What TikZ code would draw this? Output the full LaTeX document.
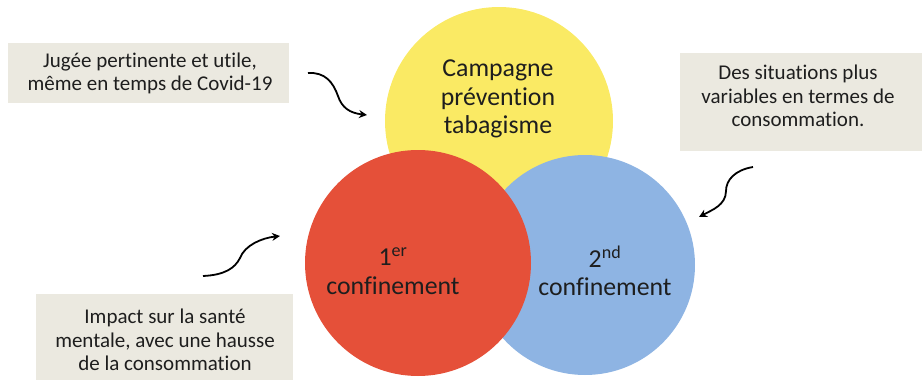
\documentclass[tikz,border=0pt]{standalone}
\usepackage{fontspec}
\setmainfont[Ligatures=CommonOff]{Carlito}
\usetikzlibrary{arrows.meta}
\definecolor{cyellow}{RGB}{250,234,100}
\definecolor{cred}{RGB}{229,80,57}
\definecolor{cblue}{RGB}{142,180,227}
\definecolor{cbox}{RGB}{235,233,224}
\definecolor{ctext}{RGB}{30,30,30}
\tikzset{
  disc/.style={circle, inner sep=0pt, draw=none},
  boxbg/.style={rectangle, fill=cbox, draw=none, inner sep=0pt},
  boxtext/.style={align=center, text=ctext, inner sep=0pt, font=\fontsize{21}{23.5}\selectfont},
  circtext/.style={align=center, text=ctext, inner sep=0pt, font=\fontsize{25.8}{28.5}\selectfont},
  curvy/.style={line width=1.8pt, black, -{Stealth[length=8pt,width=8pt]}}
}
\begin{document}
\begin{tikzpicture}[x=1pt,y=-1pt]
\useasboundingbox (0,0) rectangle (922,380);
% circles
\node[disc, fill=cyellow, minimum size=228pt] (yc) at (499,121) {};
\node[disc, fill=cblue, minimum size=220pt] (bc) at (585,265) {};
\node[disc, fill=cred, minimum size=226pt] (rc) at (418,263) {};
% circle labels
\node[circtext] (yt) at (498,99) {Campagne\\prévention\\tabagisme};
\node[circtext] (rt) at (393,271) {1\textsuperscript{er}\\confinement};
\node[circtext] (bt) at (605,271) {2\textsuperscript{nd}\\confinement};
% boxes
\node[boxbg, minimum width=281pt, minimum height=60pt] (b1) at (148.5,73) {};
\node[boxtext] (t1) at (150,73.5) {Jugée pertinente et utile,\\même en temps de Covid-19};
\node[boxbg, minimum width=242pt, minimum height=98pt] (b2) at (801,102) {};
\node[boxtext] (t2) at (798,96) {Des situations plus\\variables en termes de\\consommation.};
\node[boxbg, minimum width=257pt, minimum height=90pt] (b3) at (164.5,339) {};
\node[boxtext] (t3) at (165,340) {Impact sur la santé\\mentale, avec une hausse\\de la consommation};
% arrow end points
\coordinate (a1s) at (308,73);
\coordinate (a1m) at (338,96);
\coordinate (a1e) at (367,115);
\coordinate (a2s) at (753,167);
\coordinate (a2m) at (726,191);
\coordinate (a2e) at (699,217);
\coordinate (a3s) at (203,276);
\coordinate (a3m) at (240,258);
\coordinate (a3e) at (280,236);
% arrows
\draw[curvy] (a1s) .. controls (325,72) and (333,82) .. (a1m) .. controls (342,108) and (350,113) .. (a1e);
\draw[curvy] (a2s) .. controls (735,170) and (726,180) .. (a2m) .. controls (726,205) and (712,210) .. (a2e);
\draw[curvy] (a3s) .. controls (225,275) and (235,268) .. (a3m) .. controls (245,245) and (262,238) .. (a3e);
\end{tikzpicture}
\end{document}
